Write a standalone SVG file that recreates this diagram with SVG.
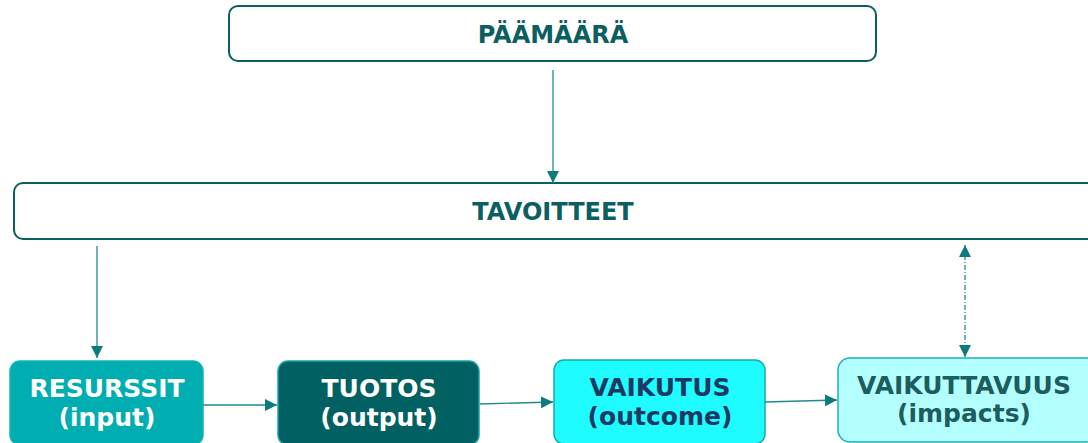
<svg xmlns="http://www.w3.org/2000/svg" width="1088" height="443" viewBox="0 0 1088 443">
<style>
.outline{fill:#fff;stroke:#0b5f60;stroke-width:2}
.t{font-family:"DejaVu Sans",Verdana,sans-serif;font-weight:bold;text-anchor:middle}
.hdr{font-size:24px;fill:#0b5f60}
.nd{font-size:25px}
.conn{stroke:#238a8c;stroke-width:1.3;fill:none}
</style>
<defs>
<marker id="ah" viewBox="0 0 10 10" refX="10" refY="5" markerWidth="12" markerHeight="12" markerUnits="userSpaceOnUse" orient="auto">
<path d="M0,0 L10,5 L0,10 z" fill="#0b7b7d"/>
</marker>
<marker id="ahs" viewBox="0 0 10 10" refX="10" refY="5" markerWidth="12" markerHeight="12" markerUnits="userSpaceOnUse" orient="auto-start-reverse">
<path d="M0,0 L10,5 L0,10 z" fill="#0b7b7d"/>
</marker>
</defs>
<g id="paamaara">
<rect class="outline" x="229" y="6" width="647" height="55" rx="9"/>
<text class="t hdr" x="553" y="43">PÄÄMÄÄRÄ</text>
</g>
<g id="tavoitteet">
<rect class="outline" x="14" y="183" width="1084" height="56" rx="9"/>
<text class="t hdr" x="553" y="220">TAVOITTEET</text>
</g>
<g id="resurssit">
<rect x="10" y="361" width="193" height="84" rx="10" fill="#00adb1" stroke="#12b5b8" stroke-width="1.5"/>
<text class="t nd" x="107" y="397" fill="#fff">RESURSSIT</text>
<text class="t nd" x="107" y="426" fill="#fff">(input)</text>
</g>
<g id="tuotos">
<rect x="278" y="361" width="201" height="84" rx="10" fill="#016162" stroke="#1aa3a5" stroke-width="1.5"/>
<text class="t nd" x="379" y="397" fill="#fff">TUOTOS</text>
<text class="t nd" x="379" y="426" fill="#fff">(output)</text>
</g>
<g id="vaikutus">
<rect x="554" y="360" width="211" height="84" rx="10" fill="#1efcff" stroke="#17a9ab" stroke-width="1.5"/>
<text class="t nd" x="660" y="396" fill="#1b3a63">VAIKUTUS</text>
<text class="t nd" x="660" y="425" fill="#1b3a63">(outcome)</text>
</g>
<g id="vaikuttavuus">
<rect x="838" y="358" width="260" height="84" rx="12" fill="#b3ffff" stroke="#1fb0b2" stroke-width="1.5"/>
<text class="t nd" x="964" y="394" fill="#1d5d5e">VAIKUTTAVUUS</text>
<text class="t nd" x="964" y="422" fill="#1d5d5e">(impacts)</text>
</g>
<g id="connectors">
<line class="conn" x1="553" y1="70" x2="553" y2="183" marker-end="url(#ah)"/>
<line class="conn" x1="97" y1="246" x2="97" y2="358" marker-end="url(#ah)"/>
<line class="conn" x1="203" y1="405" x2="277" y2="405" marker-end="url(#ah)"/>
<line class="conn" x1="480" y1="404" x2="553" y2="402" marker-end="url(#ah)"/>
<line class="conn" x1="765" y1="402" x2="837" y2="400" marker-end="url(#ah)"/>
<line class="conn" x1="965" y1="245" x2="965" y2="357" stroke-dasharray="5,2,1,2" marker-start="url(#ahs)" marker-end="url(#ah)"/>
</g>
</svg>
